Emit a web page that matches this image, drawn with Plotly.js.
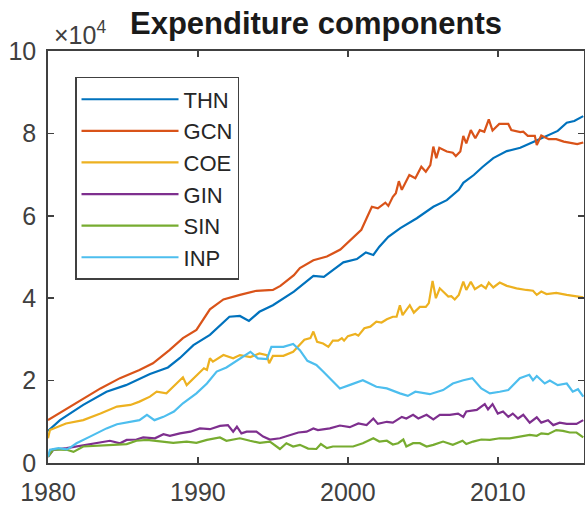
<!DOCTYPE html>
<html>
<head>
<meta charset="utf-8">
<script src="https://cdn.plot.ly/plotly-3.0.1.min.js"></script>
<style>html,body{margin:0;padding:0;background:#fff;}#chart{width:585px;height:509px;}</style>
</head>
<body>
<div id="chart"></div>
<script>
// Series names
const seriesNames = ["THN", "GCN", "COE", "GIN", "SIN", "INP"];

// THN
const thnYears = [1980.0,1980.8,1982.35,1983.9,1985.2,1986.8,1988.0,1988.8,1989.7,1990.8,1992.1,1992.8,1993.4,1994.1,1995.0,1996.4,1997.7,1998.4,1999.0,1999.7,2000.6,2001.2,2001.7,2002.1,2002.7,2003.5,2004.6,2005.7,2006.6,2007.4,2007.7,2008.4,2009.0,2009.7,2010.6,2011.5,2012.4,2013.3,2014.0,2014.6,2015.1,2015.7];
const thnValues = [7800,10400,14100,17300,18900,21600,23200,25500,28600,31100,35500,35700,34500,36700,38300,41600,45400,45200,46800,48700,49500,51100,50500,52500,54900,57000,59400,62200,63800,66300,68000,69900,71900,74000,75700,76500,78000,79500,80600,82600,83000,84200];

// GCN
const gcnYears = [1980.0,1981.7,1983.5,1984.8,1986.1,1987.0,1988.1,1989.0,1989.9,1990.8,1991.7,1992.8,1993.9,1995.0,1995.5,1996.4,1996.8,1997.7,1998.6,1999.5,2000.2,2000.9,2001.25,2001.6,2002.0,2002.5,2002.7,2003.0,2003.2,2003.4,2003.6,2004.1,2004.5,2004.9,2005.2,2005.5,2005.7,2005.9,2006.1,2006.6,2007.0,2007.2,2007.5,2007.7,2007.9,2008.2,2008.5,2008.8,2009.1,2009.4,2009.65,2010.1,2010.7,2010.9,2011.5,2011.7,2012.0,2012.47,2012.6,2012.9,2013.4,2013.9,2014.4,2015.3,2015.7];
const gcnValues = [10400,14100,18100,20600,22600,24200,27400,30300,32300,37300,39700,40800,41800,42000,43000,45600,47300,49200,50100,51800,54300,56600,59400,62200,61800,63200,62400,64600,65500,68400,66300,69900,69100,71900,70700,72300,76800,74000,76500,75600,75300,74500,75600,79400,77600,80800,78800,80800,80400,83400,80700,82300,82300,80800,80300,80400,79400,79400,77200,79500,78600,78600,78000,77400,77800];

// COE
const coeYears = [1980.0,1980.13,1981.2,1982.35,1983.5,1984.6,1985.5,1986.1,1986.8,1987.25,1987.9,1988.6,1989.0,1989.25,1989.7,1990.4,1990.6,1990.8,1991.0,1991.7,1992.35,1992.8,1993.5,1994.1,1994.6,1994.75,1995.0,1995.7,1996.35,1996.8,1997.1,1997.5,1997.7,1997.95,1998.35,1998.7,1999.0,1999.35,1999.6,1999.75,2000.0,2000.5,2000.7,2001.1,2001.5,2001.9,2002.25,2002.6,2003.0,2003.25,2003.47,2003.65,2004.13,2004.4,2004.8,2005.2,2005.4,2005.65,2005.87,2006.13,2006.7,2006.9,2007.13,2007.4,2007.7,2007.9,2008.2,2008.47,2008.9,2009.2,2009.4,2009.7,2010.13,2010.6,2011.25,2011.9,2012.35,2012.6,2012.9,2013.25,2013.9,2014.6,2015.25,2015.7];
const coeValues = [6000,8000,9600,10400,12000,13700,14100,14900,16100,17300,16900,19300,20800,18900,20600,23000,22600,25400,24600,26200,25400,26200,25700,26600,26200,24200,26000,26000,27000,28600,29900,30300,31900,29400,29000,28200,29700,29700,30300,29700,30800,31300,30900,32700,33100,34300,34100,34900,35500,35500,38300,35900,38300,36500,37900,37900,38800,44200,40000,42400,40400,40500,39700,40800,44000,42000,44000,42200,43200,42400,43800,42600,43800,43000,42400,42000,41800,40800,41600,41000,41300,40800,40500,40200];

// GIN
const ginYears = [1980.0,1980.35,1981.25,1981.9,1982.8,1983.35,1984.13,1984.8,1985.25,1985.9,1986.35,1987.13,1987.7,1988.13,1988.8,1989.5,1990.13,1990.8,1991.47,1992.0,1992.35,1992.6,1992.9,1993.25,1993.9,1994.35,1994.8,1995.47,1996.13,1996.7,1997.25,1997.7,1998.0,1998.8,1999.47,2000.13,2000.7,2001.25,2001.7,2002.0,2002.6,2003.0,2003.6,2003.9,2004.35,2004.7,2005.25,2005.7,2006.13,2006.8,2007.35,2007.7,2007.9,2008.6,2009.13,2009.35,2009.65,2010.0,2010.35,2010.7,2011.0,2011.35,2011.7,2012.13,2012.6,2012.9,2013.35,2013.7,2014.13,2014.6,2015.25,2015.7];
const ginValues = [1500,3200,3600,4000,4600,4900,5400,4800,5600,5700,6200,6000,7000,6600,7200,7600,8400,8200,9000,9200,7600,8800,7200,7600,7600,6400,5700,6000,6800,7400,7600,8400,8000,8400,9100,8700,9600,9200,10800,9500,10000,9800,11200,10800,11700,10800,11700,10600,11700,11700,12000,11200,12500,12900,14300,13000,14300,12000,12500,11200,12000,10800,11700,9800,11100,9800,10400,9200,9800,9500,9500,10400];

// SIN
const sinYears = [1980.0,1980.35,1981.25,1981.7,1982.35,1983.25,1984.35,1985.25,1985.9,1986.6,1987.47,1988.35,1989.25,1989.9,1990.6,1991.47,1991.9,1992.8,1993.47,1994.13,1994.8,1995.47,1995.9,1996.35,1996.8,1997.35,1997.9,1998.2,1998.6,1999.0,1999.7,2000.35,2001.0,2001.7,2002.1,2002.6,2003.0,2003.35,2003.7,2003.9,2004.35,2004.8,2005.25,2005.7,2006.35,2007.0,2007.65,2007.9,2008.35,2008.9,2009.47,2010.13,2010.8,2011.47,2012.13,2012.6,2012.9,2013.35,2013.9,2014.35,2014.8,2015.25,2015.7];
const sinValues = [1500,3300,3200,2700,4000,4100,4400,4600,5400,5600,5200,4900,5200,4900,5600,6200,5400,6000,5400,4900,5200,3400,4800,4000,4400,3500,3400,4600,3600,4000,4000,4000,4800,6000,5200,5400,4500,4800,5700,4000,4800,4800,4000,4400,5200,4400,5400,4600,5200,5700,5600,6000,6000,6400,6800,6600,7200,7000,8000,7800,7400,7400,6200];

// INP
const inpYears = [1980.0,1980.13,1980.7,1981.25,1981.5,1981.9,1982.8,1983.9,1984.6,1985.5,1986.1,1986.6,1987.1,1987.7,1988.4,1989.0,1989.9,1990.6,1991.25,1991.9,1992.8,1993.5,1994.0,1994.6,1994.9,1995.7,1996.35,1996.8,1997.3,1997.9,1998.35,1999.0,1999.47,2000.1,2001.0,2001.9,2002.6,2003.47,2004.0,2004.5,2005.47,2006.35,2007.0,2007.7,2008.3,2008.9,2009.47,2010.13,2010.7,2011.47,2012.1,2012.35,2012.6,2013.13,2013.47,2014.0,2014.6,2015.0,2015.35,2015.7];
const inpValues = [1500,3200,3600,3300,3800,4800,6400,8400,9400,10000,10400,11700,10400,11200,12500,14500,16900,19300,22200,23200,25400,27000,25400,25200,28200,28200,28900,27400,24800,23800,22200,19700,18100,18900,20100,18500,18100,16900,16300,17300,16700,17700,19300,20100,20600,18100,16900,17300,17700,20600,21400,20100,21100,19300,20000,18900,19300,17300,17900,16100];

// Axis ticks
const xTickVals = [1980, 1990, 2000, 2010];
const yTickVals = [0, 20000, 40000, 60000, 80000, 100000];
const yTickText = ["0", "2", "4", "6", "8", "10"];

const colors = ["#0072BD", "#D95319", "#EDB120", "#7E2F8E", "#77AC30", "#4DBEEE"];
const xs = [thnYears, gcnYears, coeYears, ginYears, sinYears, inpYears];
const ys = [thnValues, gcnValues, coeValues, ginValues, sinValues, inpValues];

const FONT = "Liberation Sans, Arial, Helvetica, sans-serif";
const traces = seriesNames.map((n, i) => ({
  x: xs[i], y: ys[i], name: n, type: "scatter", mode: "lines",
  line: {color: colors[i], width: 2.2}
}));

const axisCommon = {
  showgrid: false, zeroline: false, showline: true, mirror: "ticks",
  linecolor: "#404040", linewidth: 1.8,
  ticks: "inside", ticklen: 6, tickwidth: 1.5, tickcolor: "#404040",
  tickfont: {family: FONT, size: 25, color: "#404040"}
};

const layout = {
  width: 585, height: 509,
  margin: {l: 48, r: 1, t: 51, b: 46, pad: 0},
  paper_bgcolor: "#ffffff", plot_bgcolor: "#ffffff",
  title: {
    text: "<b>Expenditure components</b>",
    font: {family: FONT, size: 31, color: "#1a1a1a"},
    x: 0.5, xref: "paper", xanchor: "center",
    y: 0.975, yref: "container", yanchor: "top"
  },
  xaxis: Object.assign({}, axisCommon, {range: [1980, 2015.75], tickvals: xTickVals, ticktext: xTickVals.map(String), ticklabelstandoff: 6}),
  yaxis: Object.assign({}, axisCommon, {range: [0, 100000], tickvals: yTickVals, ticktext: yTickText, ticklabelstandoff: 5}),
  showlegend: true,
  legend: {
    x: 0.0504, y: 0.937, xanchor: "left", yanchor: "top",
    bgcolor: "#ffffff", bordercolor: "#404040", borderwidth: 1.5,
    font: {family: FONT, size: 22, color: "#262626"},
    itemwidth: 97, tracegroupgap: 0
  },
  annotations: [{
    text: "×10<sup>4</sup>", xref: "paper", yref: "paper", x: 0.008, y: 1,
    xanchor: "left", yanchor: "bottom", showarrow: false, yshift: 0,
    font: {family: FONT, size: 25, color: "#404040"}
  }]
};

Plotly.newPlot("chart", traces, layout, {displayModeBar: false, staticPlot: true});
</script>
</body>
</html>
